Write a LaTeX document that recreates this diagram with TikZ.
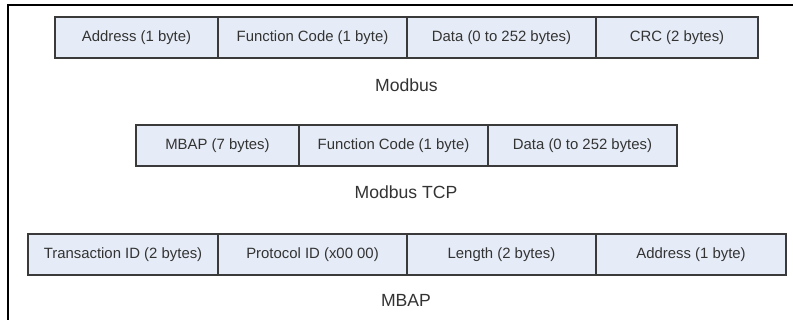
\documentclass[tikz,border=0pt]{standalone}
\usepackage{fontspec}
\setmainfont{Liberation Sans}
\definecolor{cellfill}{HTML}{E6ECF7}
\definecolor{cellline}{HTML}{3A3A3A}
\definecolor{txt}{HTML}{333333}
\begin{document}
\begin{tikzpicture}[x=1pt,y=-1pt,
  cell/.style={draw=cellline, fill=cellfill, line width=1.3pt, inner sep=0pt,
    minimum height=41pt, text=txt, font=\fontsize{14.9}{17}\selectfont},
  caption/.style={inner sep=0pt, text=txt, font=\fontsize{17.6}{20}\selectfont}]
\useasboundingbox (0,0) rectangle (793,320);
\draw[line width=1.6pt, black] (8,321) -- (8,5) -- (794,5);
% Modbus
\node[cell, minimum width=163pt] (a1) at (136.5,37.5) {Address (1 byte)};
\node[cell, minimum width=189pt] (a2) at (312.5,37.5) {Function Code (1 byte)};
\node[cell, minimum width=189pt] (a3) at (501.5,37.5) {Data (0 to 252 bytes)};
\node[cell, minimum width=162pt] (a4) at (677,37.5) {CRC (2 bytes)};
\node[caption] (la) at (406.5,85) {Modbus};
% Modbus TCP
\node[cell, minimum width=163pt] (b1) at (217.5,145.5) {MBAP (7 bytes)};
\node[cell, minimum width=189pt] (b2) at (393.5,145.5) {Function Code (1 byte)};
\node[cell, minimum width=189pt] (b3) at (582.5,145.5) {Data (0 to 252 bytes)};
\node[caption] (lb) at (406,192.5) {Modbus TCP};
% MBAP
\node[cell, minimum width=190pt] (c1) at (123,254.5) {Transaction ID (2 bytes)};
\node[cell, minimum width=189pt] (c2) at (312.5,254.5) {Protocol ID (x00 00)};
\node[cell, minimum width=189pt] (c3) at (501.5,254.5) {Length (2 bytes)};
\node[cell, minimum width=190pt] (c4) at (691,254.5) {Address (1 byte)};
\node[caption] (lc) at (406,300) {MBAP};
\end{tikzpicture}
\end{document}
